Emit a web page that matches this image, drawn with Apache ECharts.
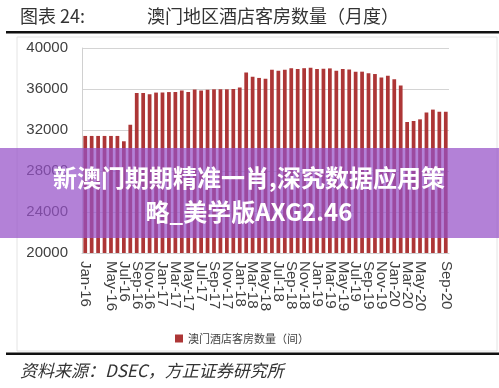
<!DOCTYPE html>
<html><head><meta charset="utf-8">
<script src="https://cdn.jsdelivr.net/npm/echarts@6/dist/echarts.min.js"></script>
<style>html,body{margin:0;padding:0;background:#fff}#c{width:499px;height:388px}</style>
</head><body><div id="c"></div>
<script>
const categories = ["Jan-16","Feb-16","Mar-16","Apr-16","May-16","Jun-16","Jul-16","Aug-16","Sep-16","Oct-16","Nov-16","Dec-16",
"Jan-17","Feb-17","Mar-17","Apr-17","May-17","Jun-17","Jul-17","Aug-17","Sep-17","Oct-17","Nov-17","Dec-17",
"Jan-18","Feb-18","Mar-18","Apr-18","May-18","Jun-18","Jul-18","Aug-18","Sep-18","Oct-18","Nov-18","Dec-18",
"Jan-19","Feb-19","Mar-19","Apr-19","May-19","Jun-19","Jul-19","Aug-19","Sep-19","Oct-19","Nov-19","Dec-19",
"Jan-20","Feb-20","Mar-20","Apr-20","May-20","Jun-20","Jul-20","Aug-20","Sep-20"];
const roomCounts = [31420,31420,31420,31420,31420,31420,30900,32520,35600,35600,35500,35650,
35650,35700,35700,35850,35700,35950,35850,35920,35970,35970,35970,36000,
36140,37620,37200,37080,37000,37880,37790,37870,38030,37940,38030,38080,
37950,37980,38010,37770,37950,37900,37690,37690,37530,37460,37120,37290,
36940,36340,32770,32880,33040,33710,33990,33780,33780];
const yTicks = {min:20000, max:40000, step:4000};
const seriesName = "澳门酒店客房数量（间）";
const titleLeft = "图表 24:";
const titleRight = "澳门地区酒店客房数量（月度）";
const sourceText = "资料来源：DSEC，方正证券研究所";
const overlayLine1 = "新澳门期期精准一肖,深究数据应用策";
const overlayLine2 = "略_美学版AXG2.46";

const chart = echarts.init(document.getElementById('c'), null, {renderer:'canvas'});
const cjk = '"Noto Sans CJK SC", sans-serif';
chart.setOption({
  animation:false,
  backgroundColor:'#fff',
  grid:{left:82, right:50, top:48, bottom:135},
  legend:{
    data:[seriesName], left:170, top:328, itemWidth:8, itemHeight:8, itemGap:4,
    icon:'rect',
    textStyle:{fontFamily:cjk, fontSize:11, color:'#444'}
  },
  xAxis:{
    type:'category', data:categories,
    axisLine:{show:true, lineStyle:{color:'#d0d0d0'}},
    axisTick:{show:false},
    axisLabel:{interval:1, rotate:-90, showMinLabel:true, showMaxLabel:true, hideOverlap:false,
      fontFamily:'"Liberation Sans", Arial', fontSize:15, color:'#404040', margin:8}
  },
  yAxis:{
    type:'value', min:yTicks.min, max:yTicks.max, interval:yTicks.step,
    axisLine:{show:true, lineStyle:{color:'#d0d0d0'}},
    axisTick:{show:false},
    splitLine:{lineStyle:{color:'#d4d4d4'}},
    axisLabel:{formatter:v => String(v), fontFamily:'"Liberation Sans", Arial', fontSize:15, color:'#404040', margin:14}
  },
  series:[{
    name:seriesName, type:'bar', data:roomCounts, barWidth:'58%',
    itemStyle:{color:'#ad3636'}
  }],
  graphic:[
    {type:'rect', shape:{x:17, y:37, width:480, height:314}, style:{fill:'none', stroke:'#e4e4e4', lineWidth:1}, z:-1},
    {type:'text', left:20, top:7, style:{text:titleLeft, font:'18px '+cjk, fill:'#333'}},
    {type:'text', left:147, top:7, style:{text:titleRight, font:'18px '+cjk, fill:'#333'}},
    {type:'rect', shape:{x:6, y:31, width:493, height:2.5}, style:{fill:'#111'}},
    {type:'rect', shape:{x:6, y:352.5, width:493, height:2.5}, style:{fill:'#111'}},
    {type:'text', left:20, top:362, style:{text:sourceText, font:'italic 17px '+cjk, fill:'#333'}},
    {type:'rect', shape:{x:0, y:148, width:499, height:90}, style:{fill:'rgba(150,80,200,0.72)'}, z:100},
    {type:'text', x:249, y:178, style:{text:overlayLine1, font:'bold 24px '+cjk, fill:'#fff', align:'center', verticalAlign:'middle'}, z:101},
    {type:'text', x:249, y:212, style:{text:overlayLine2, font:'bold 24px '+cjk, fill:'#fff', align:'center', verticalAlign:'middle'}, z:101}
  ]
});
</script></body></html>
